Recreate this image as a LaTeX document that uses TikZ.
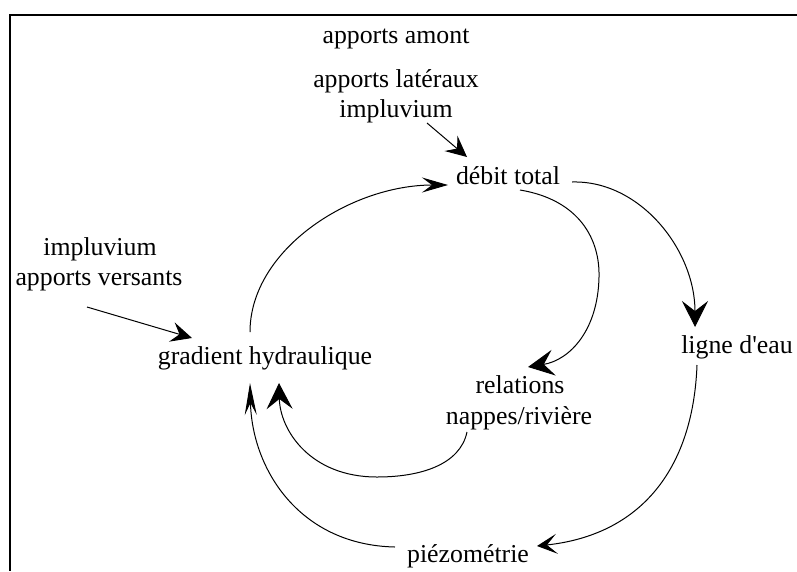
\documentclass[tikz,border=0pt]{standalone}
\usepackage{fontspec}
\setmainfont{Liberation Serif}
\usetikzlibrary{arrows.meta}
\begin{document}
\begin{tikzpicture}[x=1pt,y=-1pt,
  lbl/.style={inner sep=0pt,font=\fontsize{25.8}{31}\selectfont},
  conn/.style={line width=1pt},
  bighead/.style={-{Stealth[length=26pt,width=26pt,inset=10pt]}},
  midhead/.style={-{Stealth[length=21pt,width=20pt,inset=8pt]}},
  narrowhead/.style={-{Stealth[length=26pt,width=15pt,inset=10pt]}}]
\useasboundingbox (0,0) rectangle (797,571);
\draw[line width=2pt] (797,15) -- (10,15) -- (10,571);
\node[lbl] (amont) at (396,39) {apports amont};
\node[lbl] (lat) at (396,81) {apports latéraux};
\node[lbl] (imp1) at (396,111) {impluvium};
\node[lbl] (debit) at (508,176) {débit total};
\node[lbl] (imp2) at (100,249) {impluvium};
\node[lbl] (vers) at (99,281) {apports versants};
\node[lbl] (grad) at (265,358) {gradient hydraulique};
\node[lbl] (ligne) at (737,347) {ligne d\textquotesingle eau};
\node[lbl] (rel1) at (520,385) {relations};
\node[lbl] (rel2) at (519,418) {nappes/rivière};
\node[lbl] (piezo) at (468,556) {piézométrie};
% impluvium -> debit total
\draw[conn,midhead] ([shift={(31,12)}]imp1.center) -- ([shift={(-41,-19)}]debit.center);
% apports versants -> gradient
\draw[conn,midhead] ([shift={(-12,26)}]vers.center) -- ([shift={(-73,-20)}]grad.center);
% gradient -> debit total
\draw[conn,narrowhead] ([shift={(-15,-26)}]grad.center) .. controls (250,250) and (350,185) .. ([shift={(-60,9)}]debit.center);
% debit total -> ligne d'eau
\draw[conn,bighead] ([shift={(64,6)}]debit.center) .. controls (640,180) and (695,250) .. ([shift={(-42,-20)}]ligne.center);
% debit total -> relations
\draw[conn,bighead] ([shift={(12,14)}]debit.center) .. controls (580,200) and (600,240) .. (599,277) .. controls (598,330) and (570,360) .. ([shift={(8,-18)}]rel1.center);
% nappes/riviere -> gradient
\draw[conn,bighead] ([shift={(-52,14)}]rel2.center) .. controls (460,465) and (420,477) .. (377,477) .. controls (310,477) and (280,430) .. ([shift={(14,25)}]grad.center);
% ligne d'eau -> piezometrie
\draw[conn,-{Stealth[length=20pt,width=20pt,inset=10pt]}] ([shift={(-40,18)}]ligne.center) .. controls (693,470) and (640,535) .. ([shift={(69,-10)}]piezo.center);
% piezometrie -> gradient
\draw[conn,-{Stealth[length=32pt,width=12pt,inset=12pt]}] ([shift={(-73,-9)}]piezo.center) .. controls (300,545) and (252,470) .. ([shift={(-15,25)}]grad.center);
\end{tikzpicture}
\end{document}
